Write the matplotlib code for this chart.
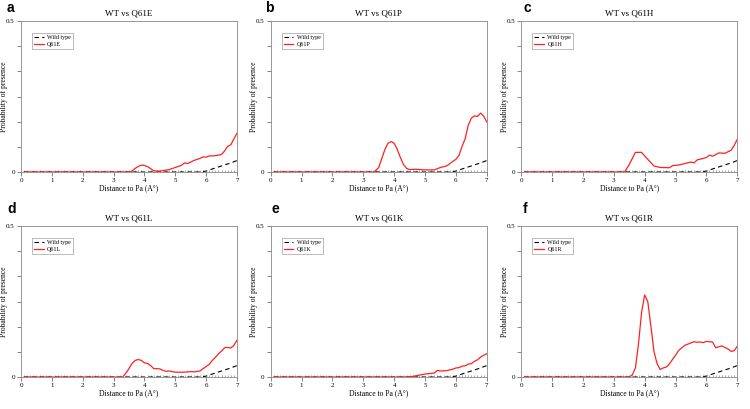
import matplotlib.pyplot as plt
from matplotlib.ticker import MultipleLocator

plt.rcParams['font.family'] = ['Liberation Serif', 'DejaVu Serif']

# wild type curve (same in every panel)
wt_x = [0.1, 5.8, 6.0, 6.2, 6.5, 6.8, 7.0]
wt_y = [0.0, 0.0, 0.003, 0.01, 0.02, 0.03, 0.038]

# mutants
q61e_x = [0.1, 3.55, 3.7, 3.85, 3.95, 4.1, 4.3, 4.5, 4.8, 5.0, 5.2, 5.3, 5.4, 5.6, 5.8, 5.9, 6.0, 6.1, 6.3, 6.5, 6.6, 6.7, 6.8, 6.9, 7.0]
q61e_y = [0.0, 0.0, 0.012, 0.021, 0.023, 0.018, 0.004, 0.003, 0.008, 0.015, 0.022, 0.03, 0.028, 0.038, 0.045, 0.05, 0.049, 0.053, 0.054, 0.058, 0.07, 0.085, 0.09, 0.11, 0.128]

q61p_x = [0.1, 3.35, 3.5, 3.6, 3.7, 3.8, 3.9, 4.0, 4.1, 4.2, 4.3, 4.4, 4.5, 4.7, 5.0, 5.3, 5.5, 5.7, 5.9, 6.0, 6.1, 6.2, 6.3, 6.4, 6.5, 6.6, 6.7, 6.8, 6.9, 7.0]
q61p_y = [0.0, 0.0, 0.015, 0.045, 0.075, 0.095, 0.101, 0.095, 0.075, 0.048, 0.025, 0.012, 0.008, 0.009, 0.007, 0.007, 0.015, 0.02, 0.035, 0.042, 0.055, 0.085, 0.11, 0.155, 0.178, 0.186, 0.184, 0.195, 0.185, 0.166]

q61h_x = [0.1, 3.35, 3.5, 3.6, 3.7, 3.9, 4.1, 4.3, 4.5, 4.8, 4.9, 5.1, 5.3, 5.5, 5.6, 5.7, 5.9, 6.0, 6.1, 6.2, 6.4, 6.6, 6.8, 6.9, 7.0]
q61h_y = [0.0, 0.0, 0.025, 0.045, 0.065, 0.065, 0.042, 0.02, 0.015, 0.014, 0.021, 0.023, 0.028, 0.033, 0.03, 0.04, 0.045, 0.048, 0.056, 0.052, 0.063, 0.062, 0.072, 0.088, 0.108]

q61l_x = [0.1, 3.3, 3.45, 3.6, 3.7, 3.8, 3.9, 4.0, 4.1, 4.2, 4.3, 4.5, 4.6, 4.7, 4.8, 5.0, 5.3, 5.5, 5.6, 5.8, 6.0, 6.1, 6.2, 6.3, 6.4, 6.5, 6.6, 6.7, 6.8, 6.9, 7.0]
q61l_y = [0.0, 0.0, 0.02, 0.045, 0.055, 0.058, 0.055, 0.047, 0.045, 0.038, 0.028, 0.027, 0.022, 0.019, 0.02, 0.016, 0.016, 0.018, 0.017, 0.02, 0.035, 0.042, 0.055, 0.065, 0.077, 0.086, 0.097, 0.098, 0.096, 0.105, 0.122]

q61k_x = [0.1, 4.3, 4.6, 4.8, 5.0, 5.2, 5.3, 5.4, 5.5, 5.7, 5.9, 6.0, 6.1, 6.2, 6.3, 6.4, 6.5, 6.6, 6.7, 6.8, 6.9, 7.0]
q61k_y = [0.0, 0.0, 0.002, 0.006, 0.01, 0.012, 0.013, 0.022, 0.02, 0.021, 0.026, 0.03, 0.031, 0.036, 0.037, 0.043, 0.044, 0.052, 0.057, 0.066, 0.072, 0.077]

q61r_x = [0.1, 3.5, 3.6, 3.7, 3.8, 3.9, 4.0, 4.1, 4.2, 4.3, 4.4, 4.5, 4.6, 4.7, 4.8, 4.9, 5.0, 5.1, 5.3, 5.5, 5.6, 5.7, 5.8, 5.9, 6.0, 6.1, 6.2, 6.3, 6.4, 6.5, 6.6, 6.7, 6.8, 6.9, 7.0]
q61r_y = [0.0, 0.0, 0.007, 0.03, 0.11, 0.215, 0.272, 0.25, 0.17, 0.085, 0.045, 0.025, 0.03, 0.033, 0.043, 0.058, 0.072, 0.088, 0.105, 0.113, 0.117, 0.115, 0.116, 0.114, 0.118, 0.117, 0.116, 0.097, 0.1, 0.103, 0.098, 0.093, 0.085, 0.087, 0.102]

letters = ['a', 'b', 'c', 'd', 'e', 'f']
mutants = ['Q61E', 'Q61P', 'Q61H', 'Q61L', 'Q61K', 'Q61R']
xs = [q61e_x, q61p_x, q61h_x, q61l_x, q61k_x, q61r_x]
ys = [q61e_y, q61p_y, q61h_y, q61l_y, q61k_y, q61r_y]

fig = plt.figure(figsize=(7.5, 4.09), dpi=100)

lefts = [0.028, 0.361, 0.695]
bottoms = [0.5795, 0.0782]
w = 0.288
h = 0.369
# letter positions (figure px)
let_x = [7, 265, 523, 7, 272, 523]
let_base = [12, 12, 12, 213, 213, 213]

for i in range(6):
    r, c = divmod(i, 3)
    ax = fig.add_axes([lefts[c], bottoms[r], w, h])
    ax.plot(wt_x, wt_y, color='black', ls=(0, (4, 3)), lw=0.8, label='Wild type')
    ax.plot(xs[i], ys[i], color='#ff2020', lw=0.9, label=mutants[i])
    ax.set_xlim(0, 7)
    ax.set_ylim(0, 0.5)
    ax.set_xticks(range(8))
    ax.xaxis.set_minor_locator(MultipleLocator(0.1))
    ax.set_yticks([0, 0.5 / 6, 0.5 / 3, 0.25, 0.5 * 2 / 3, 0.5 * 5 / 6, 0.5])
    ax.set_yticklabels(['0', '', '', '', '', '', '0.5'])
    ax.tick_params(axis='both', which='major', labelsize=5, length=3, width=0.5, pad=1.5, color='#555555')
    ax.tick_params(axis='x', which='minor', direction='in', length=1.8, width=0.4, color='#666666')
    for s in ax.spines.values():
        s.set_linewidth(0.6)
        s.set_color('#888888')
    ax.set_xlabel('Distance to Pa (A°)', fontsize=5.5, labelpad=1)
    ax.set_ylabel('Probability of presence', fontsize=5.5)
    ax.yaxis.set_label_coords(-0.058, 0.5)
    ax.set_title('WT vs ' + mutants[i], fontsize=6.5, pad=4)
    leg = ax.legend(loc='upper left', bbox_to_anchor=(0.045, 0.93), fontsize=4.3, frameon=True,
                    fancybox=False, edgecolor='#888888', handlelength=1.6, borderpad=0.35,
                    labelspacing=0.25, handletextpad=0.6, borderaxespad=0.2)
    leg.get_frame().set_linewidth(0.5)
    # panel letter
    fig.text(let_x[i] / 750, 1 - let_base[i] / 409, letters[i], fontsize=10, fontweight='bold',
             family='Liberation Sans', va='baseline', ha='left')

fig.savefig('out.png', dpi=100)
